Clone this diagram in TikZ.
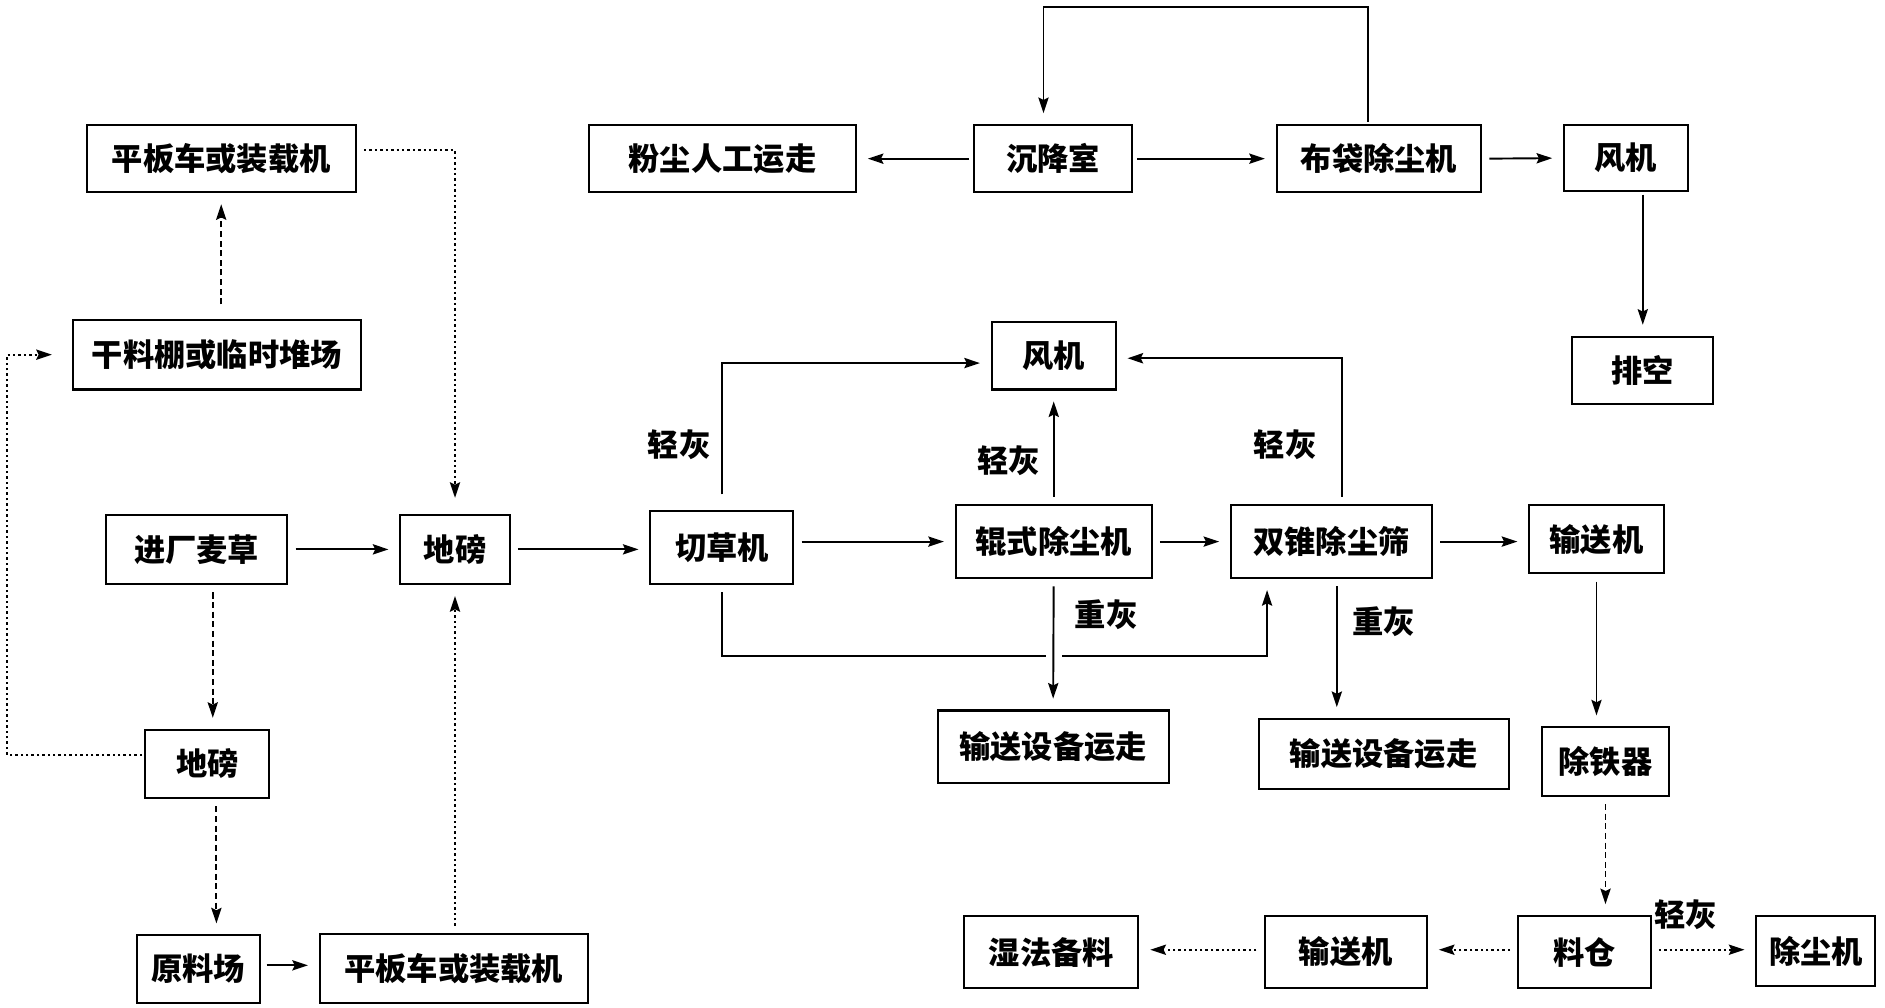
\documentclass[tikz,border=0pt]{standalone}
\usepackage{fontspec}
\setmainfont{Noto Sans CJK SC}
\usetikzlibrary{arrows.meta}
\begin{document}
\begin{tikzpicture}[x=1pt,y=-1pt,
  box/.style={draw, line width=1.7pt, inner sep=0pt, font=\fontsize{26}{30}\selectfont\bfseries},
  lbl/.style={font=\fontsize{26}{30}\selectfont\bfseries, inner sep=0pt},
  arr/.style={line width=1.6pt, -{Stealth[length=13pt,width=8.5pt,inset=2pt]}, shorten <=6pt, shorten >=9pt},
  dsh/.style={dash pattern=on 5pt off 3pt},
  dot/.style={dash pattern=on 2pt off 2.5pt}]
\useasboundingbox (0,0) rectangle (1568,838);
% left column
\node[box, minimum width=224pt, minimum height=56pt] (pb1) at (184,132) {平板车或装载机};
\node[box, minimum width=239pt, minimum height=58pt] (gl) at (180.5,295) {干料棚或临时堆场};
\node[box, minimum width=151pt, minimum height=58pt] (jc) at (163.5,457) {进厂麦草};
\node[box, minimum width=91pt, minimum height=58pt] (db1) at (378.5,457) {地磅};
\node[box, minimum width=103pt, minimum height=57pt] (db2) at (172.5,635.5) {地磅};
\node[box, minimum width=102pt, minimum height=56pt] (ylc) at (165,806) {原料场};
\node[box, minimum width=223pt, minimum height=57pt] (pb2) at (377.5,805.5) {平板车或装载机};
% top row
\node[box, minimum width=222pt, minimum height=56pt] (fc) at (601,132) {粉尘人工运走};
\node[box, minimum width=132pt, minimum height=56pt] (cjs) at (876,132) {沉降室};
\node[box, minimum width=170pt, minimum height=56pt] (bd) at (1147,132) {布袋除尘机};
\node[box, minimum width=103pt, minimum height=55pt] (fj1) at (1352.5,131.5) {风机};
\node[box, minimum width=117pt, minimum height=56pt] (pk) at (1366.5,308) {排空};
% middle
\node[box, minimum width=103pt, minimum height=56pt] (fj2) at (876.5,296) {风机};
\node[box, minimum width=119pt, minimum height=61pt] (qc) at (600.5,455.5) {切草机};
\node[box, minimum width=163pt, minimum height=61pt] (gs) at (876.5,450.5) {辊式除尘机};
\node[box, minimum width=167pt, minimum height=61pt] (sz) at (1107.5,450.5) {双锥除尘筛};
\node[box, minimum width=112pt, minimum height=57pt] (ssR) at (1328,448.5) {输送机};
\node[box, minimum width=192pt, minimum height=60pt] (ys1) at (876,621) {输送设备运走};
\node[box, minimum width=208pt, minimum height=58pt] (ys2) at (1151,627) {输送设备运走};
\node[box, minimum width=105pt, minimum height=57pt] (ctq) at (1335.5,633.5) {除铁器};
% bottom row
\node[box, minimum width=110pt, minimum height=60pt] (lc) at (1318,792) {料仓};
\node[box, minimum width=99pt, minimum height=58pt] (ccj) at (1510.5,791) {除尘机};
\node[box, minimum width=135pt, minimum height=60pt] (ssB) at (1119.5,792) {输送机};
\node[box, minimum width=145pt, minimum height=60pt] (sf) at (874.5,792) {湿法备料};
% labels
\node[lbl] (l1) at (565,370) {轻灰};
\node[lbl] (l2) at (839,383) {轻灰};
\node[lbl] (l3) at (1069,370) {轻灰};
\node[lbl] (l4) at (920,511) {重灰};
\node[lbl] (l5) at (1151,517) {重灰};
\node[lbl] (l6) at (1402,761) {轻灰};
% coordinates
\coordinate (lp) at (6,295);
\coordinate (tp) at (1138,6);
\coordinate (bl) at (600.5,546);
% left connectors
\draw[arr, dsh, shorten <=12pt] (pb1.south |- gl.north) -- (pb1.south);
\draw[arr, dot, shorten >=13pt] ([yshift=7pt]pb1.east) -| (db1.north);
\draw[arr] (jc.east) -- (jc.east -| db1.west);
\draw[arr, dsh] ([xshift=13.5pt]jc.south) -- ([xshift=4.5pt]db2.north);
\draw[arr, dot, shorten <=2pt, shorten >=17pt] ([yshift=7.5pt]db2.west) -| (lp) -- (gl.west);
\draw[arr, dsh] ([xshift=7.5pt]db2.south) -- ([xshift=15pt]ylc.north);
\draw[arr, shorten <=5pt] (ylc.east |- 0,803) -- (pb2.west |- 0,803);
\draw[arr, dot] (db1.south |- pb2.north) -- (db1.south);
\draw[arr] (db1.east) -- (db1.east -| qc.west);
% middle connectors
\draw[arr] (gs.west -| qc.east) -- (gs.west);
\draw[arr, shorten <=13pt] (qc.north) |- ([yshift=-6pt]fj2.west);
\draw[arr] (gs.north) -- (fj2.south);
\draw[arr] ([xshift=8.5pt]sz.north) |- ([yshift=-2pt]fj2.east);
\draw[arr] (gs.east) -- (gs.east -| sz.west);
\draw[arr] (qc.south) -- (bl) -| ([xshift=-53.5pt]sz.south);
\fill[white] (870,540) rectangle (883,552);
\draw[arr] (gs.south) -- (ys1.north);
\draw[arr] ([xshift=4.5pt]sz.south) -- ([xshift=-39pt]ys2.north);
\draw[arr] (sz.east) -- (sz.east -| ssR.west);
\draw[arr] (ssR.south) -- (ssR.south |- ctq.north);
\draw[arr, dsh] (ctq.south) -- (ctq.south |- lc.north);
% bottom connectors
\draw[arr, dot] (lc.east |- 0,790) -- (ccj.west |- 0,790);
\draw[arr, dot] (lc.west |- 0,790) -- (ssB.east |- 0,790);
\draw[arr, dot] (ssB.west |- 0,790) -- (sf.east |- 0,790);
% top connectors
\draw[arr, shorten <=2pt] ([xshift=-9pt]bd.north) -- (tp) -| ([xshift=-8pt]cjs.north);
\draw[arr, shorten <=3pt] (cjs.west) -- (fc.east);
\draw[arr, shorten <=3pt] (cjs.east) -- (bd.west);
\draw[arr] (bd.east) -- (fj1.west);
\draw[arr, shorten <=2pt] (pk.north |- fj1.south) -- (pk.north);
\end{tikzpicture}
\end{document}
